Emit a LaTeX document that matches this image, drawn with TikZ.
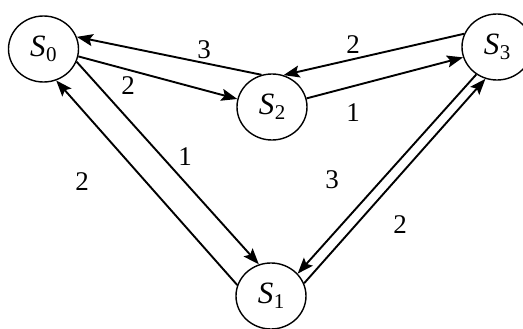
\documentclass[tikz,border=0pt]{standalone}
\usepackage{fontspec}
\setmainfont{Liberation Serif}
\usetikzlibrary{arrows.meta,shapes.geometric}
\newcommand\stname[1]{\textit{S}\kern0.5pt\raisebox{-0.32ex}{\fontsize{21}{21}\selectfont #1}}
\begin{document}
\begin{tikzpicture}[x=1pt,y=-1pt,
  state/.style={draw, ellipse, line width=1.4pt, minimum width=70pt, minimum height=66pt, inner sep=0pt, font=\fontsize{31}{31}\selectfont},
  edge/.style={line width=1.9pt, -{Stealth[length=16pt,width=12pt,inset=3pt]}},
  wt/.style={font=\fontsize{27}{27}\selectfont, inner sep=0pt}]
\useasboundingbox (0,0) rectangle (523,329);
\clip (0,0) rectangle (523,329);
\node[state] (S0) at (43.5,49) {\stname{0}};
\node[state] (S2) at (272,107) {\stname{2}};
\node[state] (S1) at (271,296) {\stname{1}};
\node[state] (S3) at (497,47) {\stname{3}};
\draw[edge] (S2.108) -- (S0.20);
\draw[edge] (S0.-12) -- (S2.167);
\draw[edge] (S3.158) -- (S2.70);
\draw[edge] (S2.14) -- (S3.-163);
\draw[edge] (S0.-21) -- (S1.111);
\draw[edge] (S1.162) -- (S0.-68);
\draw[edge] (S3.-127) -- (S1.40);
\draw[edge] (S1.21) -- (S3.-110);
\node[wt] (w1) at (204,50) {3};
\node[wt] (w2) at (128,86) {2};
\node[wt] (w3) at (353,45) {2};
\node[wt] (w4) at (353,113) {1};
\node[wt] (w5) at (185,157) {1};
\node[wt] (w6) at (82,182) {2};
\node[wt] (w7) at (332,180) {3};
\node[wt] (w8) at (400,225) {2};
\end{tikzpicture}
\end{document}
